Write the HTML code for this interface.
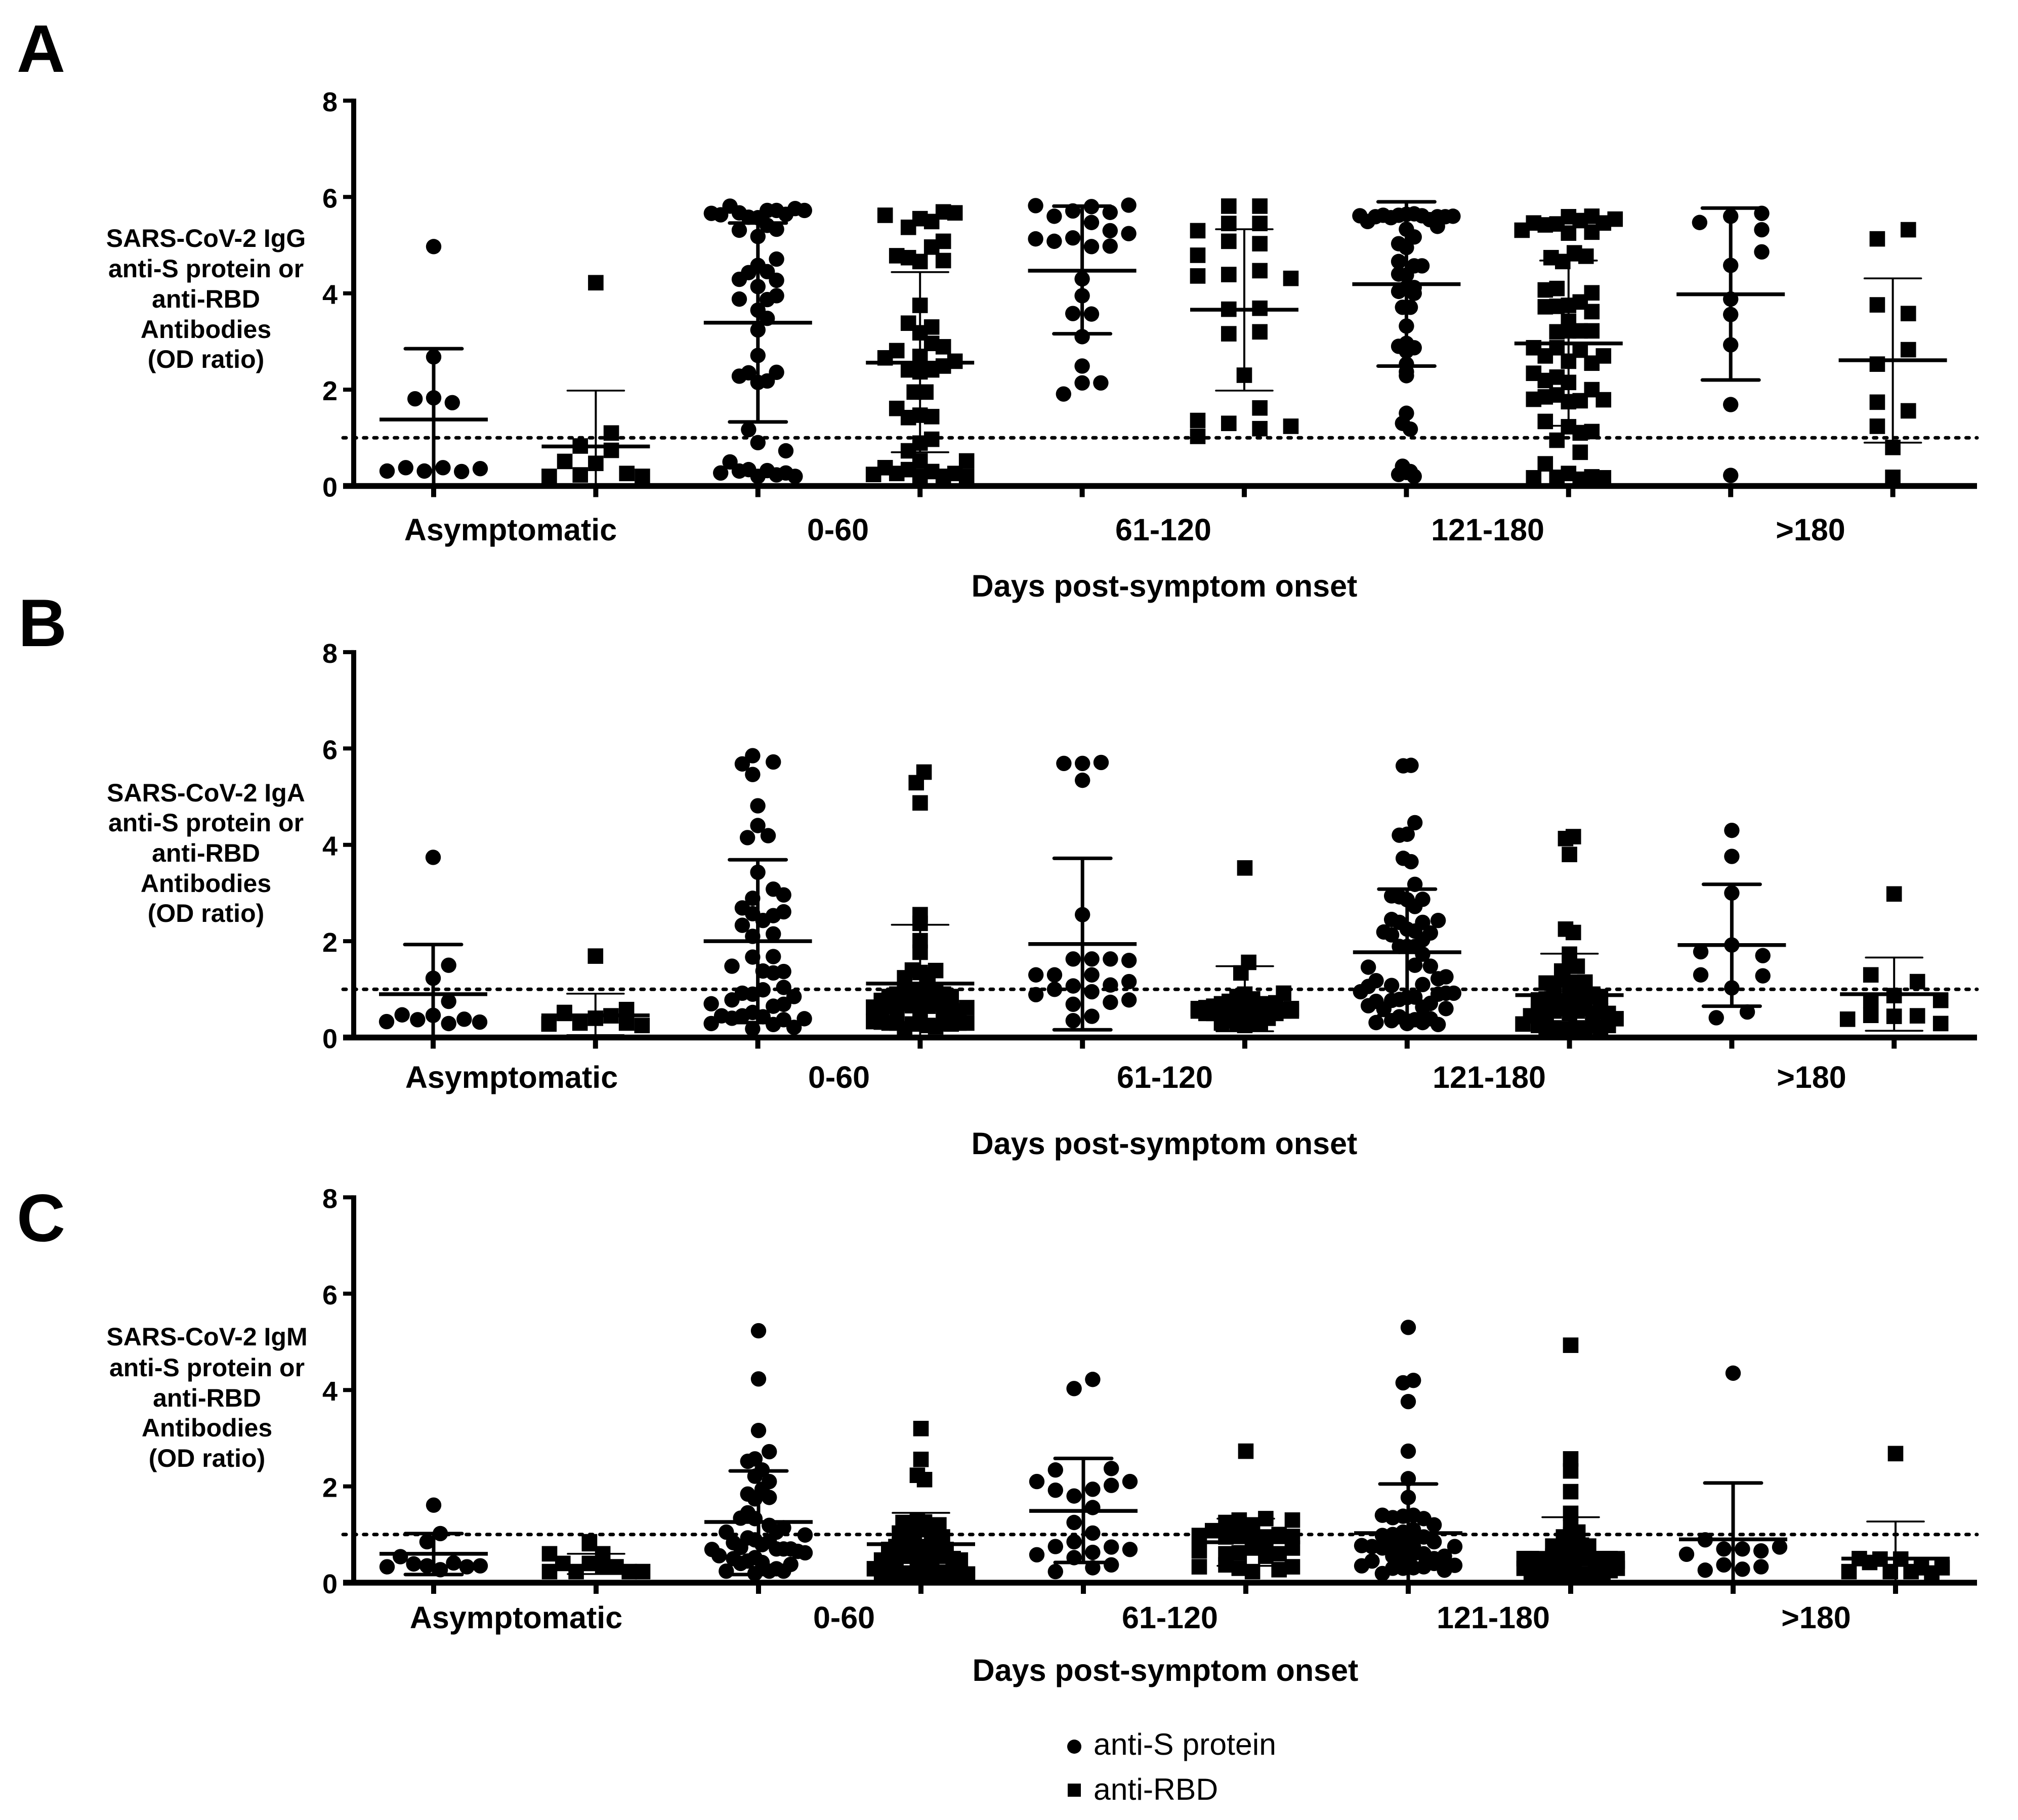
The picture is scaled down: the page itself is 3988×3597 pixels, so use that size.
<!DOCTYPE html>
<html lang="en">
<head>
<meta charset="utf-8">
<title>SARS-CoV-2 antibody OD ratios by days post-symptom onset</title>
<style>
html,body{margin:0;padding:0;background:#fff;}
svg{display:block;}
text{font-family:"Liberation Sans",Arial,sans-serif;fill:#000;}
.b{font-weight:bold;}
.letter{font-size:133px;font-weight:bold;}
.ytitle{font-size:50px;font-weight:bold;text-anchor:middle;}
.cat{font-size:61px;font-weight:bold;text-anchor:middle;}
.xtitle{font-size:61px;font-weight:bold;text-anchor:middle;}
.tick{font-size:54px;font-weight:bold;text-anchor:end;}
.leg{font-size:60.7px;}
</style>
</head>
<body>
<svg id="figure" xmlns="http://www.w3.org/2000/svg" width="3988" height="3597" viewBox="0 0 3988 3597">
  <rect x="0" y="0" width="3988" height="3597" fill="#fff"/>

  <text class="letter" x="33" y="142">A</text>
  <text class="letter" x="36" y="1277">B</text>
  <text class="letter" x="33" y="2453">C</text>

  <g>
    <text class="ytitle" x="407" y="488">SARS-CoV-2 IgG</text>
    <text class="ytitle" x="407" y="548">anti-S protein or</text>
    <text class="ytitle" x="407" y="608">anti-RBD</text>
    <text class="ytitle" x="407" y="668">Antibodies</text>
    <text class="ytitle" x="407" y="727">(OD ratio)</text>
  </g>
  <g>
    <text class="ytitle" x="407" y="1584">SARS-CoV-2 IgA</text>
    <text class="ytitle" x="407" y="1643">anti-S protein or</text>
    <text class="ytitle" x="407" y="1703">anti-RBD</text>
    <text class="ytitle" x="407" y="1763">Antibodies</text>
    <text class="ytitle" x="407" y="1822">(OD ratio)</text>
  </g>
  <g>
    <text class="ytitle" x="409" y="2659">SARS-CoV-2 IgM</text>
    <text class="ytitle" x="409" y="2720">anti-S protein or</text>
    <text class="ytitle" x="409" y="2780">anti-RBD</text>
    <text class="ytitle" x="409" y="2839">Antibodies</text>
    <text class="ytitle" x="409" y="2899">(OD ratio)</text>
  </g>

  <g>
    <text class="cat" x="1009" y="1068">Asymptomatic</text>
    <text class="cat" x="1656" y="1068">0-60</text>
    <text class="cat" x="2299" y="1068">61-120</text>
    <text class="cat" x="2940" y="1068">121-180</text>
    <text class="cat" x="3578" y="1068">&gt;180</text>
  </g>
  <g>
    <text class="cat" x="1011" y="2150">Asymptomatic</text>
    <text class="cat" x="1658" y="2150">0-60</text>
    <text class="cat" x="2302" y="2150">61-120</text>
    <text class="cat" x="2943" y="2150">121-180</text>
    <text class="cat" x="3580" y="2150">&gt;180</text>
  </g>
  <g>
    <text class="cat" x="1020" y="3218">Asymptomatic</text>
    <text class="cat" x="1668" y="3218">0-60</text>
    <text class="cat" x="2312" y="3218">61-120</text>
    <text class="cat" x="2951" y="3218">121-180</text>
    <text class="cat" x="3589" y="3218">&gt;180</text>
  </g>

  <text class="xtitle" x="2301" y="1179">Days post-symptom onset</text>
  <text class="xtitle" x="2301" y="2281">Days post-symptom onset</text>
  <text class="xtitle" x="2303" y="3322">Days post-symptom onset</text>

  <g>
    <circle cx="2123" cy="3452" r="14" fill="#000"/>
    <text class="leg" x="2161" y="3468">anti-S protein</text>
    <rect x="2110" y="3525" width="26" height="26" fill="#000"/>
    <text class="leg" x="2161" y="3557">anti-RBD</text>
  </g>

  <g id="plots"></g>
</svg>

<script>
// ---- chart data (OD ratio). Each column is a list of swarm rows;
// a row is centred on its group, null marks an empty slot in the row.
const _ = null;
const yTickLabels = [0, 2, 4, 6, 8];
const cutoffValue = 1;
const categories = ['Asymptomatic', '0-60', '61-120', '121-180', '>180'];

// ---------- Panel A: IgG ----------
const iggAntiS = [
  [[4.97],[2.68],[1.81,1.83,1.73],[.31,.38,.31,.38,.30,.36]],
  [[5.66,5.63,5.81,5.67,5.58,5.57,5.72,5.72,5.64,5.76,5.72],[5.31,_,5.18,5.41,5.33],[_,_,_,_,4.71],[4.29,4.43,4.58,4.45,4.27],[4.14],[3.88,_,_,3.87,3.95],[3.65],[_,_,3.48],[3.24],[2.71],[2.28,2.35,2.15,2.18,2.36],[1.17,_,_],[.9],[_,_,_,_,_,_,.73],[_,.27,.5,.31,.34,.2,.32,.23,.27,.2,_]],
  [[5.82,5.6,5.71,5.8,5.68,5.83],[5.13,5.08,5.15,5.47,5.3,5.24],[_,_,_,4.97,4.98,_],[4.3],[3.95],[3.58,3.57],[3.1],[2.49],[_,2.14,2.14],[1.91,_,_]],
  [[5.61,5.49,5.59,5.62,5.57,5.62,5.64,5.65,5.61,5.53,5.59,5.59,5.6],[_,_,_,_,_,_,_,_,5.39],[5.33],[_,_,5.17],[5.03,_,_],[4.95],[4.66,_,4.57],[_,_,_,_,4.57],[4.4,4.38,_],[4.04,4.12,4.12],[_,_,4.0],[3.71,3.71],[3.32],[2.9,2.96,2.87],[2.8],[2.53],[2.37],[2.29],[1.51],[1.3,1.18],[.41,.3],[.24,.28,.2]],
  [[_,5.47,_,5.6,_,5.66,_],[_,_,_,_,5.32],[_,_,_,_,4.86],[4.58],[3.88],[3.56],[2.93],[1.69],[.22]]
];
const iggAntiSMean = [1.38, 3.39, 4.47, 4.19, 3.98];
const iggAntiSUpper = [2.85, 5.46, 5.81, 5.9, 5.77];
const iggAntiSLower = [-.09, 1.33, 3.16, 2.49, 2.2];

const iggAntiRbd = [
  [[4.22],[.83,_,1.1],[.2,.51,.23,.47,.74,.26,.2]],
  [[_,5.62,_,5.37,5.55,5.49,5.69,5.67,_],[_,_,_,_,5.08],[_,_,4.96],[_,4.78,4.74,4.66,_,4.68,_],[3.75],[3.38,_,3.3],[3.18],[_,_,_,2.96,2.89],[_,2.66,2.81,_,2.69,_,_,2.59,_],[_,2.41,2.37,2.41,2.49],[1.95,1.95],[1.61,1.42,1.47,1.44,_],[_,_,.97],[.89],[.73,_,_],[_,_,_,_,.52,_,_,_,.52],[.24,.38,.26,.34,.2,.3,.2,.26,.2]],
  [[_,_,5.81,_,5.81,_,_],[_,_,5.45,_,5.45,_,_],[5.3,_,_,_,_,_,_],[_,_,5.08,_,5.03,_,_],[4.79,_,_,_,_,_,_],[_,_,4.47],[4.36,_,4.39,_,_,_,4.31],[_,_,3.67,_,3.69,_,_],[_,_,3.16,_,3.2,_,_],[2.3],[_,_,1.62],[1.36,_,1.3,_,1.19,_,1.24],[1.03,_,_,_,_,_,_]],
  [[5.31,5.46,5.42,5.44,5.59,5.51,5.6,5.46,5.54],[_,_,_,_,5.25,_,5.27,_,_],[4.74,4.66,4.84,4.77],[4.07,4.1,_,_,4.01],[3.72,3.73,3.75,3.82,3.62],[3.42],[_,3.2,3.22,3.22,3.22],[2.87,2.7,2.87,2.59,2.82,2.55,2.7],[2.34,2.19,2.26,2.15,_,2.0,_],[1.8,1.85,1.89,1.75,1.77,_,1.79],[1.34,_,1.23,1.1,1.13],[.95,_,_],[_,_,.7],[.46,_,_,_,_],[_,.17,_,.18,.26,.14,.19,.17,_]],
  [[_,_,5.13,_,5.32,_,_],[3.76,_,_],[_,_,3.58],[_,_,2.83],[2.53,_,_],[1.74,_,_],[_,_,1.56],[1.24,_,_],[.8],[.18]]
];
const iggAntiRbdMean = [.82, 2.56, 3.66, 2.96, 2.61];
const iggAntiRbdUpper = [1.98, 4.44, 5.33, 4.68, 4.31];
const iggAntiRbdLower = [-.34, .7, 1.98, 1.25, .9];

// ---------- Panel B: IgA ----------
const igaAntiS = [
  [[3.74],[_,_,1.5],[1.23],[_,_,.75],[.33,.47,.37,.46,.29,.38,.32]],
  [[_,_,_,5.68,5.85,_,5.72,_,_,_],[_,_,_,_,5.46,_,_,_,_,_],[4.81],[4.15,4.4,4.19],[3.43],[_,_,_,_,2.89,_,3.08,2.96,_,_],[_,_,_,2.69,2.57,2.43,2.53,2.61,_,_],[_,_,_,2.33,2.1,_,2.15,_,_,_],[_,_,_,_,1.67,_,1.68,_,_,_],[_,_,1.48,_,_,1.38,1.34,1.37,_,_],[.7,_,.78,.92,.9,.99,.65,1.04,.85,_],[_,_,_,_,_,_,_,.69,_,_],[.29,.45,.4,.45,.52,.43,.27,.37,.21,.39],[_,_,_,_,.18,_,_,_,_,_]],
  [[5.69,5.69,5.71],[5.34],[2.55],[_,_,1.63,1.63,1.63,1.6],[1.3,1.3,_,1.3,_,1.16],[.89,1,1.07,.95,1.09,.78],[_,_,.69,_,.73,_],[_,_,.35,.44,_,_]],
  [[5.64,5.65],[4.2,4.22,4.46],[3.72,3.65],[_,_,3.18],[2.94,2.92,2.86,2.72,2.87],[_,_,_,_,2.45,2.39,2.25,2.21,2.39,_,2.43,_,_],[_,_,_,2.19,2.13,1.89,1.89,1.89,2.03,2.17,_,_,_],[_,1.46,_,_,_,_,_,1.5,1.73,1.48,_,_,_],[.95,1.06,1.18,_,1.08,_,_,_,1.1,_,1.22,1.26,_],[_,_,.75,_,.77,.79,.83,.84,_,.71,.9,.92,.92],[_,.66,_,.59,_,_,_,_,.63,_,_,.6,_],[_,_,.31,_,.35,.43,.29,.37,.31,.39,.27,_,_]],
  [[4.3],[3.76],[3.0],[_,1.78,_,1.92,_,1.7,_],[1.3,_,_,_,1.28],[1.03],[.41,_,.53]]
];
const igaAntiSMean = [.9, 2.0, 1.94, 1.77, 1.92];
const igaAntiSUpper = [1.93, 3.69, 3.72, 3.08, 3.18];
const igaAntiSLower = [-.1, .31, .16, .46, .65];

const igaAntiRbd = [
  [[1.69],[_,.52,_,_,_,.58,_],[.28,.5,.3,.4,.45,.3,.25]],
  [[5.29,5.51],[4.87],[2.55],[2.37],[2.01],[1.77],[1.24,1.4,1.35,1.3,1.39],[_,.77,.85,.9,.95,.95,.9,.95,.95,.9,.85,_,_],[.63,.6,.65,.6,.7,.66,.6,.65,.7,.6,.6,.55,.62],[.33,.32,.3,.3,.18,.28,.3,.25,.22,.3,.28,.3,.3]],
  [[3.52],[1.34,1.56],[.6,.62,.65,.7,.75,.85,.9,.8,.7,.68,.72,.92,.6],[.55,.5,.5,.55,.55,.6,.5,.55,.6,.5,.5,.55,.55],[_,_,_,.3,.35,.3,.25,.3,.3,.4,_,_,_]],
  [[4.13,4.17],[3.8],[2.25,2.18],[1.73],[1.1,1.38,1.55,1.48,1.15],[_,_,_,1.13,_,1.2,1.1,1.15,1.1,.9,.85,_,_],[_,_,.78,.8,.85,.75,.8,.85,.8,.85,_,_,_],[_,_,.55,.5,.55,.6,.5,.55,.6,.5,.55,.5,_],[.28,.45,.25,.2,.2,.18,.15,.2,.18,.25,.2,.25,.39]],
  [[2.98],[_,1.3,_,1.16,_],[_,.77,.87,_,.77],[.38,.46,.44,.45,.29]]
];
const igaAntiRbdMean = [.46, 1.12, .7, .88, .9];
const igaAntiRbdUpper = [.91, 2.34, 1.48, 1.74, 1.66];
const igaAntiRbdLower = [.05, -.1, .13, .02, .14];

// ---------- Panel C: IgM ----------
const igmAntiS = [
  [[1.61],[.85,1.02],[.33,.54,.39,.35,.27,.41,.33,.35]],
  [[5.23],[4.23],[3.16],[2.52,2.57,_,2.72],[2.21,2.34],[_,_,_,2.1],[_,1.94],[1.84,1.74,_,1.77],[_,_,_,_,1.34,1.45,1.33,_,1.19,1.05,1.14,_,_,.99],[.69,.56,1.05,.83,.73,.93,.89,.79,.86,.7,.7,.7,.65,.62],[_,_,.24,.5,.4,.45,.52,.42,.24,.29,.24,.38,_,_],[.19,_]],
  [[4.03,4.22],[_,2.34,_,_,2.37,_],[2.1,1.92,1.8,1.94,2.02,2.1],[_,_,_,1.56,_,_],[_,_,1.25,_,_,_],[_,_,_,1.03,_,_],[.58,.75,.85,.63,.74,.69],[_,.23,.52,.31,.37,_]],
  [[5.3],[4.15,4.2],[3.76],[2.73],[2.16],[1.77],[1.4,1.35,1.38,1.4,1.33,1.2],[.98,1.0,1.05,1.1,.95,.85],[.85,.8,.9,.95],[.77,.75,.72,.68,.72,.75,.58,.5,.55,.75],[.55,.5,.6,.6],[.35,.45,.19,.3,.3,.31,.33,.4,.26,.36]],
  [[4.35],[.59,.89,.7,.7,.66,.74],[_,.26,.37,.28,.33,_]]
];
const igmAntiSMean = [.6, 1.26, 1.49, 1.03, .9];
const igmAntiSUpper = [1.02, 2.32, 2.58, 2.05, 2.07];
const igmAntiSLower = [.17, .17, .42, .02, -.27];

const igmAntiRbd = [
  [[_,_,.85,_,_,_],[.6,_,_,.81,.6,_,_,_],[.23,.4,.23,.4,.35,.33,.23,.23]],
  [[3.2],[2.56],[2.23,2.14],[1.25,1.2,1.3,1.26,1.15,1.2],[1.03,1.15,.95,1.2,1.1,.88,.95],[_,_,.69,.75,.8,.72,.75,.7,.8,.72,.69,_,_,_],[_,.47,.55,.5,.6,.55,.5,.6,.5,.55,.6,.5,.47,_],[.29,.2,.2,.25,.2,.18,.2,.22,.2,.22,.2,.2,.2,.18]],
  [[2.73],[_,_,1.25,1.3,1.2,1.33,_,1.3],[.98,1.08,.95,1.0,.9,.95,1.0,.96],[.66,_,.6,.62,.72,.75,.6,.72],[.33,_,.37,.3,.23,.55,.27,.33]],
  [[4.93],[2.57],[2.32],[1.89],[1.44],[1.15],[.95,1.0,1.05],[.76,.74,.72,.7,.78,.76],[.5,.5,.45,.45,.55,.5,.45,.5,.55,.5,.45,.5,.5,.45],[.3,.2,.2,.15,.2,.18,.15,.2,.15,.18,.2,.2,.25,.3]],
  [[2.68],[.23,.5,.42,.49,.23,.49,.23,.31,.2,.31]]
];
const igmAntiRbdMean = [.35, .8, .84, .62, .5];
const igmAntiRbdUpper = [.6, 1.45, 1.33, 1.36, 1.27];
const igmAntiRbdLower = [.18, .15, .35, -.1, -.2];

// ---- layout and drawing
const NS = 'http://www.w3.org/2000/svg';
const root = document.getElementById('plots');
const AXIS_LEFT = 699;
const AXIS_RIGHT = 3907;
const UNIT = 95.2;
const SWARM_WIDTH = 184;

const panels = [
  {key:'igg', y0:960.5, x0:857, step:320.4,
   antiS:iggAntiS, antiSMean:iggAntiSMean, antiSUpper:iggAntiSUpper, antiSLower:iggAntiSLower,
   antiRbd:iggAntiRbd, rbdMean:iggAntiRbdMean, rbdUpper:iggAntiRbdUpper, rbdLower:iggAntiRbdLower},
  {key:'iga', y0:2050.5, x0:856, step:320.8,
   antiS:igaAntiS, antiSMean:igaAntiSMean, antiSUpper:igaAntiSUpper, antiSLower:igaAntiSLower,
   antiRbd:igaAntiRbd, rbdMean:igaAntiRbdMean, rbdUpper:igaAntiRbdUpper, rbdLower:igaAntiRbdLower},
  {key:'igm', y0:3128, x0:857, step:321,
   antiS:igmAntiS, antiSMean:igmAntiSMean, antiSUpper:igmAntiSUpper, antiSLower:igmAntiSLower,
   antiRbd:igmAntiRbd, rbdMean:igmAntiRbdMean, rbdUpper:igmAntiRbdUpper, rbdLower:igmAntiRbdLower}
];

function make(tag, attrs, parent) {
  const el = document.createElementNS(NS, tag);
  for (const k in attrs) el.setAttribute(k, attrs[k]);
  parent.appendChild(el);
  return el;
}
function drawLine(parent, x1, y1, x2, y2, width, cap, name) {
  const el = make('line', {x1:x1, y1:y1, x2:x2, y2:y2, stroke:'#000', 'stroke-width':width, 'stroke-linecap':cap}, parent);
  
  
  return el;
}

function drawColumn(g, rows, mean, upper, lower, cx, yScale, isSquare, label) {
  const barWidth = isSquare ? 4 : 7;
  const capWidth = isSquare ? 3.6 : 7;
  const yTop = yScale(upper);
  const yBottom = yScale(Math.max(lower, 0));
  drawLine(g, cx, yTop, cx, yBottom, barWidth, 'butt', label + '-error-bar');
  drawLine(g, cx - 56, yTop, cx + 56, yTop, capWidth, 'round', label + '-upper-cap');
  if (lower > 0) {
    drawLine(g, cx - 56, yBottom, cx + 56, yBottom, capWidth, 'round', label + '-lower-cap');
  }
  drawLine(g, cx - 107, yScale(mean), cx + 107, yScale(mean), 7.5, 'butt', label + '-mean-line');

  let widest = 1;
  rows.forEach(function (row) { widest = Math.max(widest, row.length); });
  const pitch = widest > 1 ? SWARM_WIDTH / (widest - 1) : 0;
  rows.forEach(function (row) {
    row.forEach(function (value, i) {
      if (value === null) return;
      const px = cx + (i - (row.length - 1) / 2) * pitch;
      const py = yScale(value);
      let mark;
      if (isSquare) {
        mark = make('rect', {x:px - 15.3, y:py - 15.3, width:30.6, height:30.6, fill:'#000'}, g);
      } else {
        mark = make('circle', {cx:px, cy:py, r:15.2, fill:'#000'}, g);
      }
      
      
    });
  });
}

panels.forEach(function (p) {
  const yScale = function (v) { return p.y0 - v * UNIT; };
  const xScale = function (i) { return p.x0 + i * p.step; };
  const g = make('g', {}, root);
  
  

  // cutoff line
  const cutoff = drawLine(g, 678, yScale(cutoffValue), AXIS_RIGHT, yScale(cutoffValue), 7, 'round', 'cutoff-line-' + p.key);
  cutoff.setAttribute('stroke-dasharray', '6 14.3');

  // columns: anti-S on even ticks, anti-RBD on odd ticks
  categories.forEach(function (cat, c) {
    drawColumn(g, p.antiS[c], p.antiSMean[c], p.antiSUpper[c], p.antiSLower[c],
      xScale(c * 2), yScale, false, p.key + '-anti-s-' + c);
    drawColumn(g, p.antiRbd[c], p.rbdMean[c], p.rbdUpper[c], p.rbdLower[c],
      xScale(c * 2 + 1), yScale, true, p.key + '-anti-rbd-' + c);
  });

  // axes
  drawLine(g, AXIS_LEFT, yScale(8) - 4, AXIS_LEFT, p.y0, 10, 'butt', 'y-axis-' + p.key);
  drawLine(g, 678, p.y0, AXIS_RIGHT, p.y0, 11.5, 'butt', 'x-axis-' + p.key);
  yTickLabels.forEach(function (t) {
    drawLine(g, 678, yScale(t), AXIS_LEFT, yScale(t), 8, 'butt', 'y-tick-' + p.key + '-' + t);
    const label = make('text', {x:667, y:yScale(t) + 21, 'class':'tick'}, g);
    label.textContent = String(t);
    
    
  });
  for (let i = 0; i < categories.length * 2; i++) {
    drawLine(g, xScale(i), p.y0, xScale(i), p.y0 + 22, 10, 'butt', 'x-tick-' + p.key + '-' + i);
  }
});
</script>
</body>
</html>
